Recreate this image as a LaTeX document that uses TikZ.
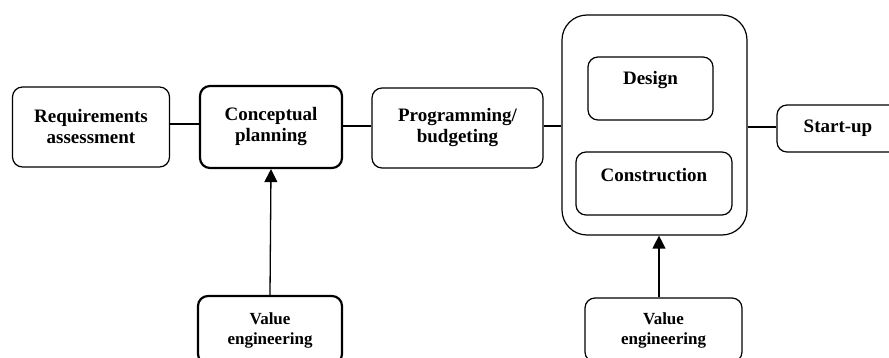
\documentclass[tikz,border=0pt]{standalone}
\usepackage{fontspec}
\setmainfont{Liberation Serif}
\usetikzlibrary{arrows.meta}
\tikzset{
  box/.style={draw, rounded corners=10pt, line width=1.2pt, inner sep=0pt, align=center,
    font=\fontsize{19}{21}\selectfont\bfseries},
  thickbox/.style={box, line width=2.2pt},
  link/.style={line width=1.3pt},
  uparrow/.style={line width=1.3pt, -{Triangle[length=13pt,width=13pt]}},
  lbl/.style={font=\fontsize{19}{21}\selectfont\bfseries, inner sep=0pt},
  vefont/.style={font=\fontsize{17}{20}\selectfont\bfseries}
}
\begin{document}
\begin{tikzpicture}[x=1pt,y=-1pt]
\useasboundingbox (0,0) rectangle (889,358);
\clip (0,0) rectangle (889,358);
\node[box, minimum width=157pt, minimum height=80pt] (req) at (91,127) {Requirements\\assessment};
\node[thickbox, minimum width=142pt, minimum height=82pt] (conc) at (271,127) {Conceptual\\planning};
\node[box, minimum width=171pt, minimum height=80pt] (prog) at (457.5,128) {Programming/\\budgeting};
\node[box, rounded corners=25pt, minimum width=185pt, minimum height=220pt] (big) at (654.5,125) {};
\node[box, minimum width=125pt, minimum height=63pt] (design) at (650.5,88.5) {};
\node[lbl] at ([yshift=8pt]design.center) {Design};
\node[box, minimum width=156pt, minimum height=63pt] (constr) at (654,183.5) {};
\node[lbl] at ([yshift=8pt]constr.center) {Construction};
\node[box, minimum width=122pt, minimum height=47pt] (start) at (838,128.5) {Start-up};
\node[thickbox, vefont, minimum width=144pt, minimum height=68pt] (ve1) at (270,330) {Value\\engineering};
\node[box, vefont, minimum width=157pt, minimum height=64pt] (ve2) at (663.5,330) {Value\\engineering};
\draw[link] (req.east |- 0,124) -- (conc.west |- 0,124);
\draw[link] (conc.east |- 0,126) -- (prog.west |- 0,126);
\draw[link] (prog.east |- 0,126) -- (big.west |- 0,126);
\draw[link] (big.east |- 0,127) -- (start.west |- 0,127);
\draw[uparrow] (ve1.north) -- (conc.south);
\draw[uparrow] (ve2.north -| 659,0) -- (big.south -| 659,0);
\end{tikzpicture}
\end{document}
